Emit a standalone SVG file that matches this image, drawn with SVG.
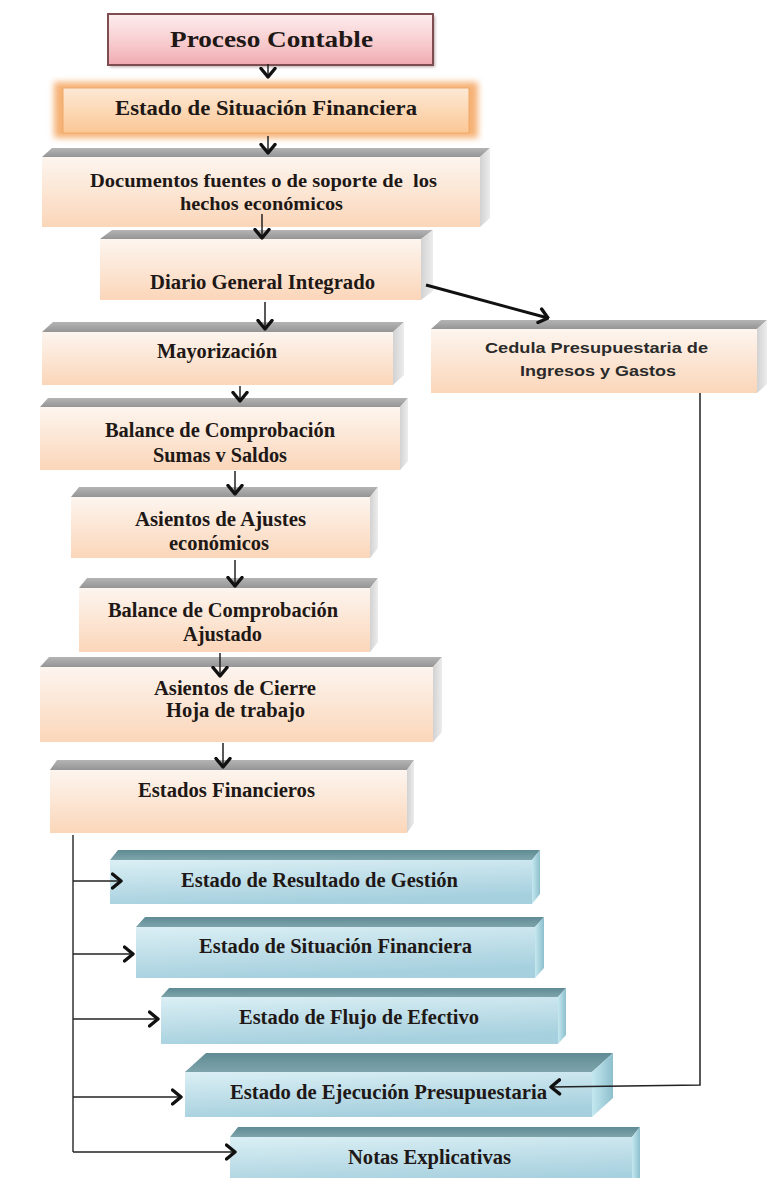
<svg xmlns="http://www.w3.org/2000/svg" width="769" height="1178" viewBox="0 0 769 1178">
<defs>
  <linearGradient id="peach" x1="0" y1="0" x2="0" y2="1">
    <stop offset="0" stop-color="#fdf5ef"/>
    <stop offset="1" stop-color="#fbd6b9"/>
  </linearGradient>
  <linearGradient id="grayTop" x1="0" y1="0" x2="0" y2="1">
    <stop offset="0" stop-color="#b4b4b4"/>
    <stop offset="1" stop-color="#959595"/>
  </linearGradient>
  <linearGradient id="graySide" x1="0" y1="0" x2="1" y2="0">
    <stop offset="0" stop-color="#d2d2d2"/>
    <stop offset="1" stop-color="#ececec"/>
  </linearGradient>
  <linearGradient id="blue" x1="0" y1="0" x2="0.3" y2="1">
    <stop offset="0" stop-color="#dbeff5"/>
    <stop offset="1" stop-color="#a6d0de"/>
  </linearGradient>
  <linearGradient id="blueTop" x1="0" y1="0" x2="0" y2="1">
    <stop offset="0" stop-color="#5f8b94"/>
    <stop offset="1" stop-color="#7ea4ab"/>
  </linearGradient>
  <linearGradient id="blueSide" x1="0" y1="0" x2="1" y2="0">
    <stop offset="0" stop-color="#c4e8f0"/>
    <stop offset="1" stop-color="#8dbfcc"/>
  </linearGradient>
  <linearGradient id="pink" x1="0" y1="0" x2="0" y2="1">
    <stop offset="0" stop-color="#fdeeee"/>
    <stop offset="0.6" stop-color="#f7c9cc"/>
    <stop offset="1" stop-color="#efaab0"/>
  </linearGradient>
  <linearGradient id="orange" x1="0" y1="0" x2="0" y2="1">
    <stop offset="0" stop-color="#fde9d6"/>
    <stop offset="1" stop-color="#fbc795"/>
  </linearGradient>
  <filter id="glow" x="-10%" y="-40%" width="120%" height="180%">
    <feGaussianBlur stdDeviation="3"/>
  </filter>
  <filter id="shadow" x="-10%" y="-20%" width="120%" height="160%">
    <feGaussianBlur stdDeviation="1.5"/>
  </filter>
  <marker id="chev" viewBox="0 0 12 18" refX="10.5" refY="9" markerWidth="12" markerHeight="18" markerUnits="userSpaceOnUse" orient="auto">
    <path d="M2,2 L10.5,9 L2,16" fill="none" stroke="#111" stroke-width="3.4" stroke-linecap="round" stroke-linejoin="round"/>
  </marker>
  <style>
    .front { fill: url(#peach); }
    .top { fill: url(#grayTop); }
    .side { fill: url(#graySide); }
    .bfront { fill: url(#blue); }
    .btop { fill: url(#blueTop); }
    .bside { fill: url(#blueSide); }
    .t { font-family: "Liberation Serif", "Times New Roman", serif; font-weight: bold; fill: #201816; text-anchor: middle; }
    .s { font-family: "Liberation Sans", Arial, sans-serif; font-weight: bold; fill: #2a2a2a; text-anchor: middle; }
    .ln { fill: none; stroke: #222; stroke-width: 1.5; marker-end: url(#chev); }
    .thick { stroke: #111; stroke-width: 3; }
    .ln2 { fill: none; stroke: #333; stroke-width: 1.5; }
  </style>
</defs>
<rect width="769" height="1178" fill="#ffffff"/>

<g id="proceso-contable">
  <rect x="110" y="16" width="325" height="51" fill="#8a6a6a" opacity="0.6" filter="url(#shadow)"/>
  <rect x="108" y="14" width="325" height="51" fill="url(#pink)" stroke="#7d4d4f" stroke-width="2"/>
  <text class="t" x="271.5" y="47" font-size="24" textLength="203" lengthAdjust="spacingAndGlyphs">Proceso Contable</text>
</g>

<g id="estado-situacion-top">
  <rect x="54" y="82" width="424" height="56" fill="#f6b276" filter="url(#glow)"/>
  <rect x="63" y="88" width="406" height="45" fill="url(#orange)" stroke="#f0a866" stroke-width="1"/>
  <text class="t" x="266" y="115" font-size="22" textLength="302" lengthAdjust="spacingAndGlyphs">Estado de Situación Financiera</text>
</g>

<g id="documentos">
  <path class="top" d="M42,157 L52,148 L490,148 L480,157 Z"/>
  <path class="side" d="M480,157 L490,148 L490,218 L480,227 Z"/>
  <rect class="front" x="42" y="157" width="438" height="70"/>
  <text class="t" x="263.5" y="187" font-size="19" textLength="347" lengthAdjust="spacingAndGlyphs" xml:space="preserve">Documentos fuentes o de soporte de  los</text>
  <text class="t" x="261.5" y="210" font-size="19" textLength="163" lengthAdjust="spacingAndGlyphs">hechos económicos</text>
</g>

<g id="diario">
  <path class="top" d="M100,239 L112,230 L433,230 L421,239 Z"/>
  <path class="side" d="M421,239 L433,230 L433,291 L421,300 Z"/>
  <rect class="front" x="100" y="239" width="321" height="61"/>
  <text class="t" x="262.5" y="289" font-size="20" textLength="225" lengthAdjust="spacingAndGlyphs">Diario General Integrado</text>
</g>

<g id="mayorizacion">
  <path class="top" d="M42,332 L53,322 L404,322 L393,332 Z"/>
  <path class="side" d="M393,332 L404,322 L404,375 L393,385 Z"/>
  <rect class="front" x="42" y="332" width="351" height="53"/>
  <text class="t" x="217" y="358" font-size="20" textLength="120" lengthAdjust="spacingAndGlyphs">Mayorización</text>
</g>

<g id="cedula">
  <path class="top" d="M431,329 L441,320 L767,320 L757,329 Z"/>
  <path class="side" d="M757,329 L767,320 L767,384 L757,393 Z"/>
  <rect class="front" x="431" y="329" width="326" height="64"/>
  <text class="s" x="596.5" y="353" font-size="14" textLength="223" lengthAdjust="spacingAndGlyphs">Cedula Presupuestaria de</text>
  <text class="s" x="598" y="376" font-size="14" textLength="156" lengthAdjust="spacingAndGlyphs">Ingresos y Gastos</text>
</g>

<g id="balance-sumas">
  <path class="top" d="M40,407 L48,398 L408,398 L400,407 Z"/>
  <path class="side" d="M400,407 L408,398 L408,461 L400,470 Z"/>
  <rect class="front" x="40" y="407" width="360" height="63"/>
  <text class="t" x="220" y="437" font-size="20" textLength="230" lengthAdjust="spacingAndGlyphs">Balance de Comprobación</text>
  <text class="t" x="220" y="462" font-size="20" textLength="134" lengthAdjust="spacingAndGlyphs">Sumas v Saldos</text>
</g>

<g id="asientos-ajustes">
  <path class="top" d="M71,497 L79,487 L378,487 L370,497 Z"/>
  <path class="side" d="M370,497 L378,487 L378,548 L370,558 Z"/>
  <rect class="front" x="71" y="497" width="299" height="61"/>
  <text class="t" x="220.5" y="526" font-size="20" textLength="171" lengthAdjust="spacingAndGlyphs">Asientos de Ajustes</text>
  <text class="t" x="219" y="550" font-size="20" textLength="100" lengthAdjust="spacingAndGlyphs">económicos</text>
</g>

<g id="balance-ajustado">
  <path class="top" d="M79,588 L87,578 L378,578 L370,588 Z"/>
  <path class="side" d="M370,588 L378,578 L378,642 L370,652 Z"/>
  <rect class="front" x="79" y="588" width="291" height="64"/>
  <text class="t" x="223" y="617" font-size="20" textLength="230" lengthAdjust="spacingAndGlyphs">Balance de Comprobación</text>
  <text class="t" x="222.5" y="641" font-size="20" textLength="79" lengthAdjust="spacingAndGlyphs">Ajustado</text>
</g>

<g id="asientos-cierre">
  <path class="top" d="M40,667 L49,657 L442,657 L433,667 Z"/>
  <path class="side" d="M433,667 L442,657 L442,732 L433,742 Z"/>
  <rect class="front" x="40" y="667" width="393" height="75"/>
  <text class="t" x="235" y="695" font-size="20" textLength="162" lengthAdjust="spacingAndGlyphs">Asientos de Cierre</text>
  <text class="t" x="235.5" y="717" font-size="20" textLength="139" lengthAdjust="spacingAndGlyphs">Hoja de trabajo</text>
</g>

<g id="estados-financieros">
  <path class="top" d="M50,770 L57,760 L414,760 L407,770 Z"/>
  <path class="side" d="M407,770 L414,760 L414,823 L407,833 Z"/>
  <rect class="front" x="50" y="770" width="357" height="63"/>
  <text class="t" x="226.5" y="797" font-size="20" textLength="177" lengthAdjust="spacingAndGlyphs">Estados Financieros</text>
</g>

<g id="estado-resultado">
  <path class="btop" d="M110,860 L118,850 L540,850 L532,860 Z"/>
  <path class="bside" d="M532,860 L540,850 L540,894 L532,904 Z"/>
  <rect class="bfront" x="110" y="860" width="422" height="44"/>
  <text class="t" x="319.5" y="887" font-size="20" textLength="277" lengthAdjust="spacingAndGlyphs">Estado de Resultado de Gestión</text>
</g>

<g id="estado-situacion">
  <path class="btop" d="M136,927 L145,917 L544,917 L535,927 Z"/>
  <path class="bside" d="M535,927 L544,917 L544,968 L535,978 Z"/>
  <rect class="bfront" x="136" y="927" width="399" height="51"/>
  <text class="t" x="335.5" y="953" font-size="20" textLength="273" lengthAdjust="spacingAndGlyphs">Estado de Situación Financiera</text>
</g>

<g id="estado-flujo">
  <path class="btop" d="M161,997 L169,988 L566,988 L558,997 Z"/>
  <path class="bside" d="M558,997 L566,988 L566,1035 L558,1044 Z"/>
  <rect class="bfront" x="161" y="997" width="397" height="47"/>
  <text class="t" x="359" y="1024" font-size="20" textLength="240" lengthAdjust="spacingAndGlyphs">Estado de Flujo de Efectivo</text>
</g>

<g id="estado-ejecucion">
  <path class="btop" d="M185,1072 L206,1053 L613,1053 L592,1072 Z"/>
  <path class="bside" d="M592,1072 L613,1053 L613,1098 L592,1117 Z"/>
  <rect class="bfront" x="185" y="1072" width="407" height="45"/>
  <text class="t" x="388.5" y="1099" font-size="20" textLength="317" lengthAdjust="spacingAndGlyphs">Estado de Ejecución Presupuestaria</text>
</g>

<g id="notas">
  <path class="btop" d="M230,1137 L238,1127 L640,1127 L632,1137 Z"/>
  <path class="bside" d="M632,1137 L640,1127 L640,1178 L632,1186 Z"/>
  <rect class="bfront" x="230" y="1137" width="402" height="49"/>
  <text class="t" x="429.5" y="1164" font-size="20" textLength="163" lengthAdjust="spacingAndGlyphs">Notas Explicativas</text>
</g>

<g id="connectors">
  <path class="ln" d="M268,64 L268,77"/>
  <path class="ln" d="M268,136 L268,153"/>
  <path class="ln" d="M262,214 L262,238"/>
  <path class="ln" d="M265,302 L265,329"/>
  <path class="ln" d="M240,386 L240,401"/>
  <path class="ln" d="M235,471 L235,494"/>
  <path class="ln" d="M235,560 L235,586"/>
  <path class="ln" d="M220,653 L220,676"/>
  <path class="ln" d="M223,743 L223,767"/>
  <path class="ln thick" d="M426,285 L548,318"/>
  <path class="ln2" d="M73,835 L73,1152"/>
  <path class="ln" d="M73,881 L121,881"/>
  <path class="ln" d="M73,954 L133,954"/>
  <path class="ln" d="M73,1019 L158,1019"/>
  <path class="ln" d="M73,1097 L181,1097"/>
  <path class="ln" d="M73,1152 L235,1152"/>
  <path class="ln" d="M700,393 L700,1085 L551,1087"/>
</g>
</svg>
